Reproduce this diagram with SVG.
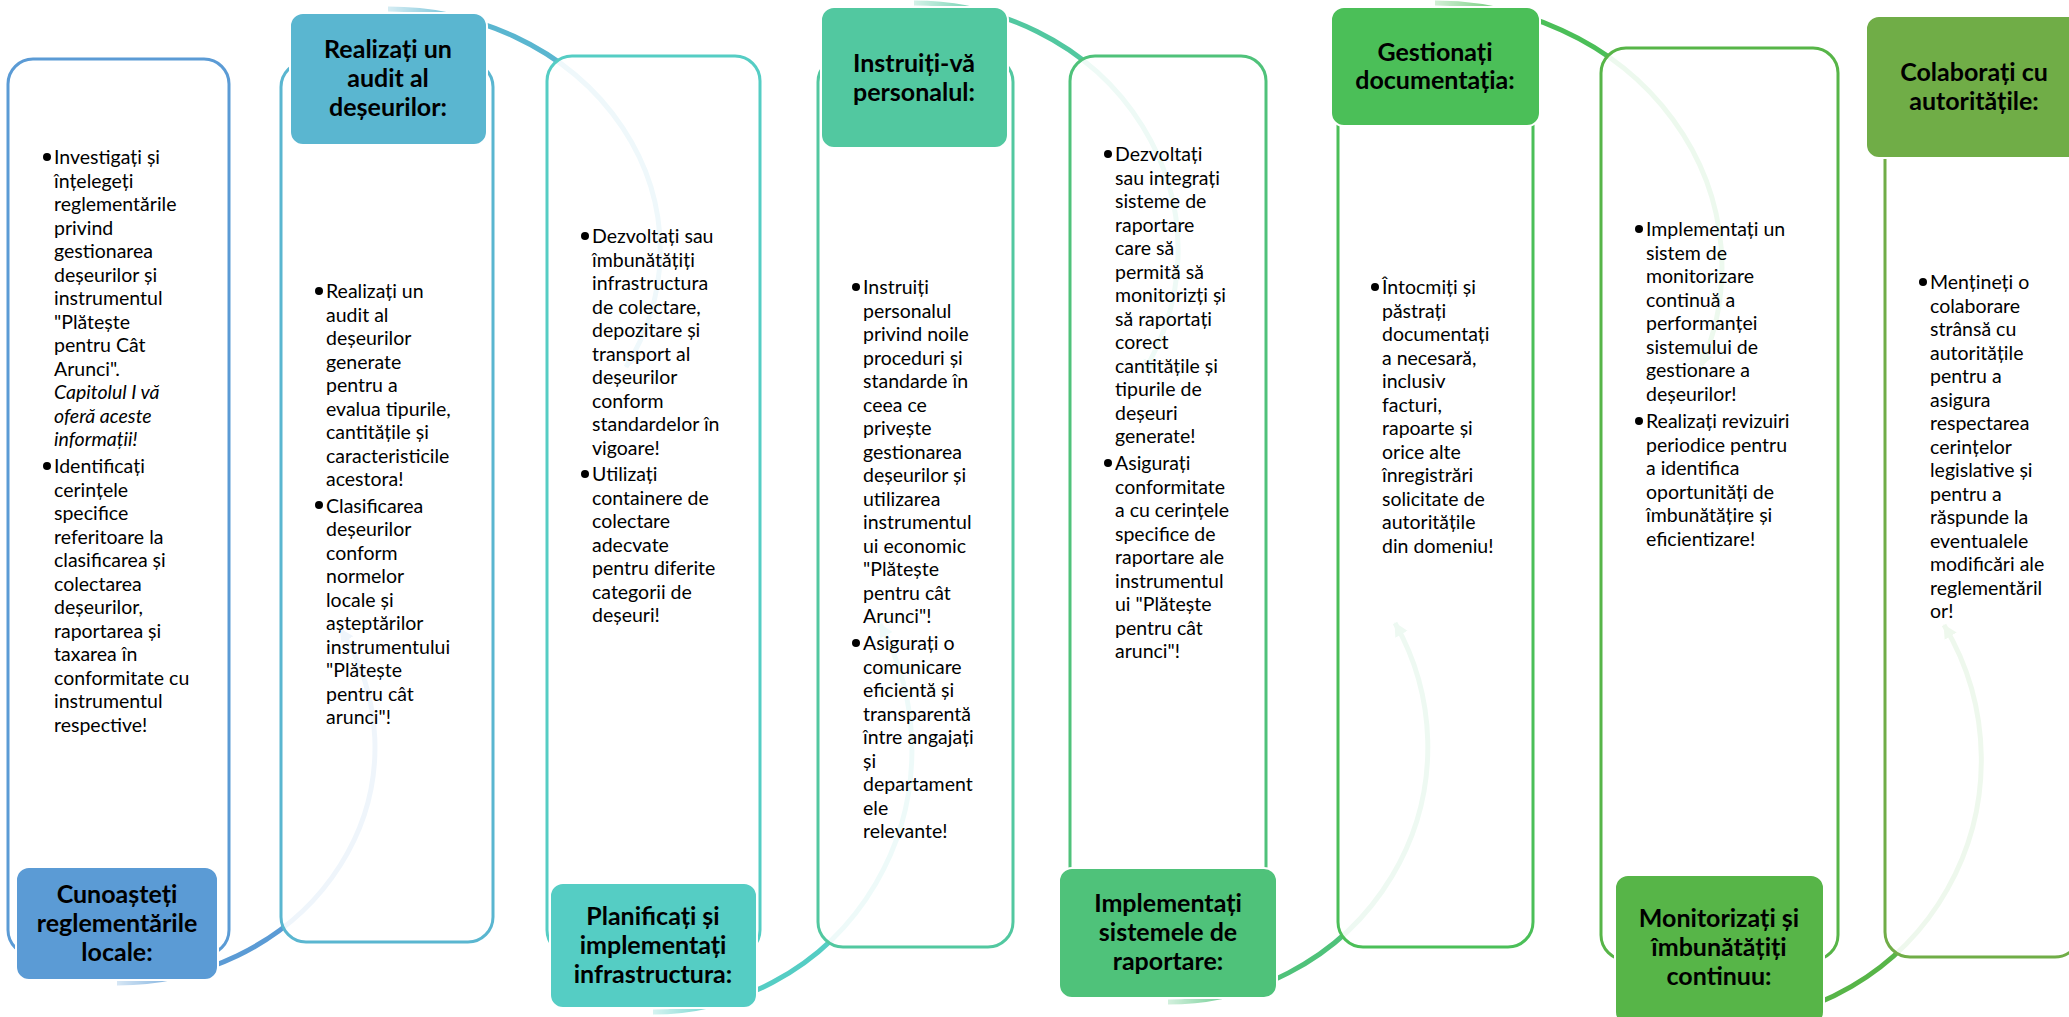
<svg xmlns="http://www.w3.org/2000/svg" width="2069" height="1017" viewBox="0 0 2069 1017">
<style>
.cbox{fill:#fff;fill-opacity:0.9;stroke-width:3}
.tbox{stroke:#fff;stroke-width:2}
.body{font-family:Lato,"Liberation Sans",sans-serif;font-size:19.5px;fill:#000}
.it{font-style:italic}
.title{font-family:Lato,"Liberation Sans",sans-serif;font-size:25px;font-weight:bold;fill:#000;text-anchor:middle}
.arc{fill:none;stroke-width:5;mask:url(#fade)}
.bul{fill:#000}
</style>
<defs>
<linearGradient id="fadeg" x1="0.077" y1="0" x2="0.31" y2="0">
<stop offset="0" stop-color="#fff" stop-opacity="0.25"/>
<stop offset="1" stop-color="#fff" stop-opacity="1"/>
</linearGradient>
<mask id="fade" maskContentUnits="objectBoundingBox" x="-0.2" y="-0.2" width="1.4" height="1.4">
<rect x="-0.1" y="-0.1" width="1.3" height="1.3" fill="url(#fadeg)"/>
</mask>
<marker id="mA" markerUnits="userSpaceOnUse" markerWidth="20" markerHeight="20" viewBox="0 0 20 20" refX="13" refY="10" orient="auto"><path d="M0,3 L14,10 L0,17 z" fill="#5B9BD5"/></marker>
<marker id="mB" markerUnits="userSpaceOnUse" markerWidth="20" markerHeight="20" viewBox="0 0 20 20" refX="13" refY="10" orient="auto"><path d="M0,3 L14,10 L0,17 z" fill="#5AB6D0"/></marker>
<marker id="mC" markerUnits="userSpaceOnUse" markerWidth="20" markerHeight="20" viewBox="0 0 20 20" refX="13" refY="10" orient="auto"><path d="M0,3 L14,10 L0,17 z" fill="#55CDC4"/></marker>
<marker id="mD" markerUnits="userSpaceOnUse" markerWidth="20" markerHeight="20" viewBox="0 0 20 20" refX="13" refY="10" orient="auto"><path d="M0,3 L14,10 L0,17 z" fill="#52C8A0"/></marker>
<marker id="mE" markerUnits="userSpaceOnUse" markerWidth="20" markerHeight="20" viewBox="0 0 20 20" refX="13" refY="10" orient="auto"><path d="M0,3 L14,10 L0,17 z" fill="#4FC27A"/></marker>
<marker id="mF" markerUnits="userSpaceOnUse" markerWidth="20" markerHeight="20" viewBox="0 0 20 20" refX="13" refY="10" orient="auto"><path d="M0,3 L14,10 L0,17 z" fill="#4BBF58"/></marker>
<marker id="mG" markerUnits="userSpaceOnUse" markerWidth="20" markerHeight="20" viewBox="0 0 20 20" refX="13" refY="10" orient="auto"><path d="M0,3 L14,10 L0,17 z" fill="#57B548"/></marker>
</defs>
<rect width="2069" height="1017" fill="#fff"/>
<g id="connectors">
<path class="arc" d="M117,983 A258,236 0 0 0 340.4,629" stroke="#5B9BD5" marker-end="url(#mA)"/>
<path class="arc" d="M388,9 A272,241 0 0 1 626,367" stroke="#5AB6D0" marker-end="url(#mB)"/>
<path class="arc" d="M653,1012 A259,262 0 0 0 880,624" stroke="#55CDC4" marker-end="url(#mC)"/>
<path class="arc" d="M914,3 A264,247 0 0 1 1143,373" stroke="#52C8A0" marker-end="url(#mD)"/>
<path class="arc" d="M1168,1002 A260,255 0 0 0 1395,623" stroke="#4FC27A" marker-end="url(#mE)"/>
<path class="arc" d="M1435,3 A287,264 0 0 1 1701,366" stroke="#4BBF58" marker-end="url(#mF)"/>
<path class="arc" d="M1720,1022 A261,262 0 0 0 1944,625" stroke="#57B548" marker-end="url(#mG)"/>
</g>
<g id="node1">
<rect class="cbox" x="8" y="59" width="221" height="896" rx="25" stroke="#5B9BD5"/>
<rect class="tbox" x="16" y="867" width="202" height="113" rx="13" fill="#5B9BD5"/>
<text class="title"><tspan x="117" y="903">Cunoașteți</tspan><tspan x="117" y="932">reglementările</tspan><tspan x="117" y="961">locale:</tspan></text>
<circle class="bul" cx="47" cy="157" r="4"/><circle class="bul" cx="47" cy="466" r="4"/>
<text class="body"><tspan x="54" y="164">Investigați și</tspan><tspan x="54" dy="23.5">înțelegeți</tspan><tspan x="54" dy="23.5">reglementările</tspan><tspan x="54" dy="23.5">privind</tspan><tspan x="54" dy="23.5">gestionarea</tspan><tspan x="54" dy="23.5">deșeurilor și</tspan><tspan x="54" dy="23.5">instrumentul</tspan><tspan x="54" dy="23.5">"Plătește</tspan><tspan x="54" dy="23.5">pentru Cât</tspan><tspan x="54" dy="23.5">Arunci".</tspan><tspan class="it" x="54" dy="23.5">Capitolul I vă</tspan><tspan class="it" x="54" dy="23.5">oferă aceste</tspan><tspan class="it" x="54" dy="23.5">informații!</tspan><tspan x="54" dy="27">Identificați</tspan><tspan x="54" dy="23.5">cerințele</tspan><tspan x="54" dy="23.5">specifice</tspan><tspan x="54" dy="23.5">referitoare la</tspan><tspan x="54" dy="23.5">clasificarea și</tspan><tspan x="54" dy="23.5">colectarea</tspan><tspan x="54" dy="23.5">deșeurilor,</tspan><tspan x="54" dy="23.5">raportarea și</tspan><tspan x="54" dy="23.5">taxarea în</tspan><tspan x="54" dy="23.5">conformitate cu</tspan><tspan x="54" dy="23.5">instrumentul</tspan><tspan x="54" dy="23.5">respective!</tspan></text>
</g>
<g id="node2">
<rect class="cbox" x="281" y="62" width="212" height="880" rx="25" stroke="#5AB6D0"/>
<rect class="tbox" x="290" y="13" width="197" height="132" rx="13" fill="#5AB6D0"/>
<text class="title"><tspan x="388" y="58">Realizați un</tspan><tspan x="388" y="87">audit al</tspan><tspan x="388" y="116">deșeurilor:</tspan></text>
<circle class="bul" cx="319" cy="291" r="4"/><circle class="bul" cx="319" cy="505" r="4"/>
<text class="body"><tspan x="326" y="298">Realizați un</tspan><tspan x="326" dy="23.5">audit al</tspan><tspan x="326" dy="23.5">deșeurilor</tspan><tspan x="326" dy="23.5">generate</tspan><tspan x="326" dy="23.5">pentru a</tspan><tspan x="326" dy="23.5">evalua tipurile,</tspan><tspan x="326" dy="23.5">cantitățile și</tspan><tspan x="326" dy="23.5">caracteristicile</tspan><tspan x="326" dy="23.5">acestora!</tspan><tspan x="326" dy="26.5">Clasificarea</tspan><tspan x="326" dy="23.5">deșeurilor</tspan><tspan x="326" dy="23.5">conform</tspan><tspan x="326" dy="23.5">normelor</tspan><tspan x="326" dy="23.5">locale și</tspan><tspan x="326" dy="23.5">așteptărilor</tspan><tspan x="326" dy="23.5">instrumentului</tspan><tspan x="326" dy="23.5">"Plătește</tspan><tspan x="326" dy="23.5">pentru cât</tspan><tspan x="326" dy="23.5">arunci"!</tspan></text>
</g>
<g id="node3">
<rect class="cbox" x="547" y="56" width="213" height="899" rx="25" stroke="#55CDC4"/>
<rect class="tbox" x="550" y="883" width="207" height="125" rx="13" fill="#55CDC4"/>
<text class="title"><tspan x="653" y="925">Planificați și</tspan><tspan x="653" y="954">implementați</tspan><tspan x="653" y="983">infrastructura:</tspan></text>
<circle class="bul" cx="585" cy="236" r="4"/><circle class="bul" cx="585" cy="474" r="4"/>
<text class="body"><tspan x="592" y="243">Dezvoltați sau</tspan><tspan x="592" dy="23.5">îmbunătățiți</tspan><tspan x="592" dy="23.5">infrastructura</tspan><tspan x="592" dy="23.5">de colectare,</tspan><tspan x="592" dy="23.5">depozitare și</tspan><tspan x="592" dy="23.5">transport al</tspan><tspan x="592" dy="23.5">deșeurilor</tspan><tspan x="592" dy="23.5">conform</tspan><tspan x="592" dy="23.5">standardelor în</tspan><tspan x="592" dy="23.5">vigoare!</tspan><tspan x="592" dy="26.5">Utilizați</tspan><tspan x="592" dy="23.5">containere de</tspan><tspan x="592" dy="23.5">colectare</tspan><tspan x="592" dy="23.5">adecvate</tspan><tspan x="592" dy="23.5">pentru diferite</tspan><tspan x="592" dy="23.5">categorii de</tspan><tspan x="592" dy="23.5">deșeuri!</tspan></text>
</g>
<g id="node4">
<rect class="cbox" x="818" y="57" width="195" height="890" rx="25" stroke="#52C8A0"/>
<rect class="tbox" x="821" y="7" width="187" height="141" rx="13" fill="#52C8A0"/>
<text class="title"><tspan x="914" y="72">Instruiți-vă</tspan><tspan x="914" y="101">personalul:</tspan></text>
<circle class="bul" cx="856" cy="287" r="4"/><circle class="bul" cx="856" cy="643" r="4"/>
<text class="body"><tspan x="863" y="294">Instruiți</tspan><tspan x="863" dy="23.5">personalul</tspan><tspan x="863" dy="23.5">privind noile</tspan><tspan x="863" dy="23.5">proceduri și</tspan><tspan x="863" dy="23.5">standarde în</tspan><tspan x="863" dy="23.5">ceea ce</tspan><tspan x="863" dy="23.5">privește</tspan><tspan x="863" dy="23.5">gestionarea</tspan><tspan x="863" dy="23.5">deșeurilor și</tspan><tspan x="863" dy="23.5">utilizarea</tspan><tspan x="863" dy="23.5">instrumentul</tspan><tspan x="863" dy="23.5">ui economic</tspan><tspan x="863" dy="23.5">"Plătește</tspan><tspan x="863" dy="23.5">pentru cât</tspan><tspan x="863" dy="23.5">Arunci"!</tspan><tspan x="863" dy="27">Asigurați o</tspan><tspan x="863" dy="23.5">comunicare</tspan><tspan x="863" dy="23.5">eficientă și</tspan><tspan x="863" dy="23.5">transparentă</tspan><tspan x="863" dy="23.5">între angajați</tspan><tspan x="863" dy="23.5">și</tspan><tspan x="863" dy="23.5">departament</tspan><tspan x="863" dy="23.5">ele</tspan><tspan x="863" dy="23.5">relevante!</tspan></text>
</g>
<g id="node5">
<rect class="cbox" x="1070" y="56" width="196" height="899" rx="25" stroke="#4FC27A"/>
<rect class="tbox" x="1059" y="868" width="218" height="130" rx="13" fill="#4FC27A"/>
<text class="title"><tspan x="1168" y="912">Implementați</tspan><tspan x="1168" y="941">sistemele de</tspan><tspan x="1168" y="970">raportare:</tspan></text>
<circle class="bul" cx="1108" cy="154" r="4"/><circle class="bul" cx="1108" cy="463" r="4"/>
<text class="body"><tspan x="1115" y="161">Dezvoltați</tspan><tspan x="1115" dy="23.5">sau integrați</tspan><tspan x="1115" dy="23.5">sisteme de</tspan><tspan x="1115" dy="23.5">raportare</tspan><tspan x="1115" dy="23.5">care să</tspan><tspan x="1115" dy="23.5">permită să</tspan><tspan x="1115" dy="23.5">monitorizți și</tspan><tspan x="1115" dy="23.5">să raportați</tspan><tspan x="1115" dy="23.5">corect</tspan><tspan x="1115" dy="23.5">cantitățile și</tspan><tspan x="1115" dy="23.5">tipurile de</tspan><tspan x="1115" dy="23.5">deșeuri</tspan><tspan x="1115" dy="23.5">generate!</tspan><tspan x="1115" dy="27">Asigurați</tspan><tspan x="1115" dy="23.5">conformitate</tspan><tspan x="1115" dy="23.5">a cu cerințele</tspan><tspan x="1115" dy="23.5">specifice de</tspan><tspan x="1115" dy="23.5">raportare ale</tspan><tspan x="1115" dy="23.5">instrumentul</tspan><tspan x="1115" dy="23.5">ui "Plătește</tspan><tspan x="1115" dy="23.5">pentru cât</tspan><tspan x="1115" dy="23.5">arunci"!</tspan></text>
</g>
<g id="node6">
<rect class="cbox" x="1338" y="57" width="195" height="890" rx="25" stroke="#4BBF58"/>
<rect class="tbox" x="1331" y="7" width="209" height="119" rx="13" fill="#4BBF58"/>
<text class="title"><tspan x="1435" y="61">Gestionați</tspan><tspan x="1435" y="89">documentația:</tspan></text>
<circle class="bul" cx="1375" cy="287" r="4"/>
<text class="body"><tspan x="1382" y="294">Întocmiți și</tspan><tspan x="1382" dy="23.5">păstrați</tspan><tspan x="1382" dy="23.5">documentați</tspan><tspan x="1382" dy="23.5">a necesară,</tspan><tspan x="1382" dy="23.5">inclusiv</tspan><tspan x="1382" dy="23.5">facturi,</tspan><tspan x="1382" dy="23.5">rapoarte și</tspan><tspan x="1382" dy="23.5">orice alte</tspan><tspan x="1382" dy="23.5">înregistrări</tspan><tspan x="1382" dy="23.5">solicitate de</tspan><tspan x="1382" dy="23.5">autoritățile</tspan><tspan x="1382" dy="23.5">din domeniu!</tspan></text>
</g>
<g id="node7">
<rect class="cbox" x="1601" y="48" width="237" height="912" rx="25" stroke="#57B548"/>
<rect class="tbox" x="1615" y="875" width="209" height="150" rx="13" fill="#57B548"/>
<text class="title"><tspan x="1719" y="927">Monitorizați și</tspan><tspan x="1719" y="956">îmbunătățiți</tspan><tspan x="1719" y="985">continuu:</tspan></text>
<circle class="bul" cx="1639" cy="229" r="4"/><circle class="bul" cx="1639" cy="421" r="4"/>
<text class="body"><tspan x="1646" y="236">Implementați un</tspan><tspan x="1646" dy="23.5">sistem de</tspan><tspan x="1646" dy="23.5">monitorizare</tspan><tspan x="1646" dy="23.5">continuă a</tspan><tspan x="1646" dy="23.5">performanței</tspan><tspan x="1646" dy="23.5">sistemului de</tspan><tspan x="1646" dy="23.5">gestionare a</tspan><tspan x="1646" dy="23.5">deșeurilor!</tspan><tspan x="1646" dy="27.5">Realizați revizuiri</tspan><tspan x="1646" dy="23.5">periodice pentru</tspan><tspan x="1646" dy="23.5">a identifica</tspan><tspan x="1646" dy="23.5">oportunități de</tspan><tspan x="1646" dy="23.5">îmbunătățire și</tspan><tspan x="1646" dy="23.5">eficientizare!</tspan></text>
</g>
<g id="node8">
<rect class="cbox" x="1885" y="60" width="195" height="897" rx="25" stroke="#70AD47"/>
<rect class="tbox" x="1866" y="16" width="216" height="142" rx="13" fill="#70AD47"/>
<text class="title"><tspan x="1974" y="81">Colaborați cu</tspan><tspan x="1974" y="110">autoritățile:</tspan></text>
<circle class="bul" cx="1923" cy="282" r="4"/>
<text class="body"><tspan x="1930" y="289">Mențineți o</tspan><tspan x="1930" dy="23.5">colaborare</tspan><tspan x="1930" dy="23.5">strânsă cu</tspan><tspan x="1930" dy="23.5">autoritățile</tspan><tspan x="1930" dy="23.5">pentru a</tspan><tspan x="1930" dy="23.5">asigura</tspan><tspan x="1930" dy="23.5">respectarea</tspan><tspan x="1930" dy="23.5">cerințelor</tspan><tspan x="1930" dy="23.5">legislative și</tspan><tspan x="1930" dy="23.5">pentru a</tspan><tspan x="1930" dy="23.5">răspunde la</tspan><tspan x="1930" dy="23.5">eventualele</tspan><tspan x="1930" dy="23.5">modificări ale</tspan><tspan x="1930" dy="23.5">reglementăril</tspan><tspan x="1930" dy="23.5">or!</tspan></text>
</g>
</svg>
